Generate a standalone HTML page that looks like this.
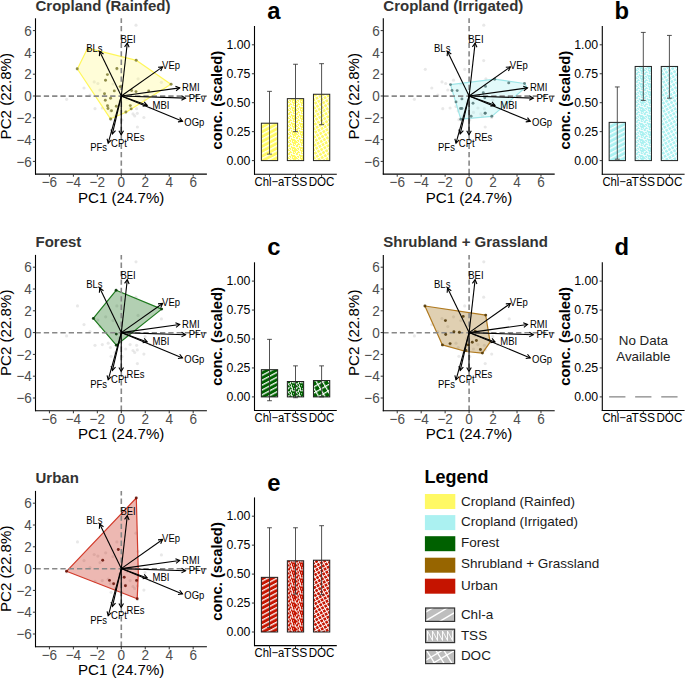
<!DOCTYPE html>
<html><head><meta charset="utf-8"><style>
html,body{margin:0;padding:0;background:#fff;overflow:hidden}
svg{display:block}
text{font-family:"Liberation Sans", sans-serif}
</style></head><body>
<svg width="685" height="679" viewBox="0 0 685 679" font-family='"Liberation Sans", sans-serif'>
<rect width="685" height="679" fill="#fff"/>
<defs>
<pattern id="stripe" patternUnits="userSpaceOnUse" width="4.3" height="4.3" patternTransform="rotate(62)">
<rect x="0" y="0" width="1.35" height="4.3" fill="#fff" fill-opacity="0.92"/></pattern>
<pattern id="dots" patternUnits="userSpaceOnUse" width="8" height="8"><path d="M0,0h1v1h-1zM4,0h1v1h-1zM6,0h1v1h-1zM2,1h1v1h-1zM3,1h1v1h-1zM4,1h1v1h-1zM7,1h1v1h-1zM2,2h1v1h-1zM4,2h1v1h-1zM5,2h1v1h-1zM6,2h1v1h-1zM7,2h1v1h-1zM0,3h1v1h-1zM1,3h1v1h-1zM2,3h1v1h-1zM7,3h1v1h-1zM0,4h1v1h-1zM3,4h1v1h-1zM1,5h1v1h-1zM3,5h1v1h-1zM5,5h1v1h-1zM2,6h1v1h-1zM3,6h1v1h-1zM0,7h1v1h-1zM1,7h1v1h-1zM3,7h1v1h-1zM4,7h1v1h-1z" fill="#fff" fill-opacity="0.85"/></pattern>
<pattern id="cross" patternUnits="userSpaceOnUse" width="3.6" height="3.6" patternTransform="rotate(-30)">
<rect x="0" y="0" width="3.6" height="0.95" fill="#fff"/><rect x="0" y="0" width="0.95" height="3.6" fill="#fff"/></pattern>
<pattern id="cross2" patternUnits="userSpaceOnUse" width="5.4" height="5.4" patternTransform="translate(1,0) rotate(-30)">
<rect x="0" y="0" width="5.4" height="1.2" fill="#fff"/><rect x="0" y="0" width="1.2" height="5.4" fill="#fff"/></pattern>
<pattern id="lstripe" patternUnits="userSpaceOnUse" width="7.2" height="7.2" patternTransform="rotate(60)">
<rect x="0" y="0" width="1.4" height="7.2" fill="#fff"/></pattern>
<pattern id="ldots" patternUnits="userSpaceOnUse" width="4" height="4">
<path d="M0,0 L1,4 L2,0 L3,4" stroke="#fff" stroke-width="0.6" fill="none"/></pattern>
<pattern id="lcross" patternUnits="userSpaceOnUse" width="7" height="7" patternTransform="rotate(55)">
<rect x="0" y="0" width="7" height="1.1" fill="#fff"/><rect x="0" y="0" width="1.1" height="7" fill="#fff"/></pattern>
</defs>
<g transform="translate(0,0)">
<text x="35.5" y="10.8" font-size="15" font-weight="bold" fill="#333">Cropland (Rainfed)</text>
<text transform="translate(10.7,96.2) rotate(-90)" text-anchor="middle" font-size="15.1" fill="#000">PC2 (22.8%)</text>
<text x="121.2" y="202.9" text-anchor="middle" font-size="15.1" fill="#000">PC1 (24.7%)</text>
<g fill="#000" fill-opacity="0.09">
<circle cx="77.5" cy="69.3" r="1.6"/>
<circle cx="66.6" cy="99.3" r="1.6"/>
<circle cx="95" cy="108.7" r="1.6"/>
<circle cx="102.3" cy="108" r="1.6"/>
<circle cx="108.2" cy="106.6" r="1.6"/>
<circle cx="110.4" cy="110.9" r="1.6"/>
<circle cx="125.7" cy="112.4" r="1.6"/>
<circle cx="133" cy="113.9" r="1.6"/>
<circle cx="136.6" cy="108.7" r="1.6"/>
<circle cx="143.9" cy="117.5" r="1.6"/>
<circle cx="137.4" cy="127" r="1.6"/>
<circle cx="111.1" cy="119.7" r="1.6"/>
<circle cx="130.1" cy="108" r="1.6"/>
<circle cx="135.9" cy="60.6" r="1.6"/>
<circle cx="138.1" cy="78.8" r="1.6"/>
<circle cx="116.9" cy="69.3" r="1.6"/>
<circle cx="134.7" cy="115.9" r="1.6"/>
<circle cx="137.3" cy="113.3" r="1.6"/>
<circle cx="97.9" cy="83.5" r="1.6"/>
<circle cx="161.4" cy="82.3" r="1.6"/>
<circle cx="94.2" cy="81.9" r="1.6"/>
<circle cx="105.7" cy="80.2" r="1.6"/>
<circle cx="136" cy="25.2" r="1.6"/>
<circle cx="100" cy="90" r="1.6"/>
<circle cx="113" cy="84" r="1.6"/>
<circle cx="119" cy="102" r="1.6"/>
<circle cx="127" cy="99" r="1.6"/>
<circle cx="90" cy="95" r="1.6"/>
<circle cx="84" cy="88" r="1.6"/>
<circle cx="122" cy="120" r="1.6"/>
<circle cx="115" cy="116" r="1.6"/>
<circle cx="145" cy="100" r="1.6"/>
<circle cx="150" cy="108" r="1.6"/>
</g>
<polygon points="77.4,69.0 87.6,48.2 136.6,60.4 170.9,84.3 126.0,112.2 110.5,118.8" fill="#FFF964" fill-opacity="0.25" stroke="#FFF75A" stroke-width="1.2" stroke-linejoin="round"/>
<line x1="35.5" y1="96.1" x2="206.9" y2="96.1" stroke="#888" stroke-width="1.6" stroke-dasharray="5.3 3.0"/>
<line x1="121.3" y1="174.1" x2="121.3" y2="18.3" stroke="#888" stroke-width="1.6" stroke-dasharray="5.3 3.1"/>
<g fill="#7f7c32" fill-opacity="0.85">
<circle cx="77.2" cy="68.8" r="1.45"/>
<circle cx="88.1" cy="49.4" r="1.45"/>
<circle cx="136.2" cy="60.3" r="1.45"/>
<circle cx="171.1" cy="84.2" r="1.45"/>
<circle cx="110.6" cy="119" r="1.45"/>
<circle cx="116.9" cy="68.5" r="1.45"/>
<circle cx="107.4" cy="74.6" r="1.45"/>
<circle cx="105.5" cy="80.2" r="1.45"/>
<circle cx="120.2" cy="86.6" r="1.45"/>
<circle cx="114.3" cy="90.9" r="1.45"/>
<circle cx="104.5" cy="93.8" r="1.45"/>
<circle cx="110.6" cy="98.2" r="1.45"/>
<circle cx="105.3" cy="100.3" r="1.45"/>
<circle cx="107.5" cy="105.8" r="1.45"/>
<circle cx="108" cy="108.5" r="1.45"/>
<circle cx="111.5" cy="110.7" r="1.45"/>
<circle cx="116.3" cy="106.3" r="1.45"/>
<circle cx="130.3" cy="105.6" r="1.45"/>
<circle cx="131.2" cy="108.9" r="1.45"/>
<circle cx="125.9" cy="112" r="1.45"/>
<circle cx="131.6" cy="90.5" r="1.45"/>
<circle cx="136" cy="91.6" r="1.45"/>
<circle cx="148.7" cy="90.9" r="1.45"/>
</g>
<g stroke="#000" stroke-width="1.1" fill="none" stroke-linecap="butt" stroke-linejoin="miter">
<line x1="121.30" y1="96.00" x2="127.30" y2="43.10"/><polyline points="124.57,46.80 127.30,43.10 129.14,47.32"/>
<line x1="121.30" y1="96.00" x2="99.70" y2="51.50"/><polyline points="99.37,56.09 99.70,51.50 103.51,54.08"/>
<line x1="121.30" y1="96.00" x2="162.60" y2="66.90"/><polyline points="158.02,67.31 162.60,66.90 160.67,71.07"/>
<line x1="121.30" y1="96.00" x2="179.70" y2="87.90"/><polyline points="175.44,86.17 179.70,87.90 176.07,90.73"/>
<line x1="121.30" y1="96.00" x2="185.50" y2="98.10"/><polyline points="181.59,95.67 185.50,98.10 181.44,100.27"/>
<line x1="121.30" y1="96.00" x2="147.20" y2="105.30"/><polyline points="144.23,101.79 147.20,105.30 142.67,106.12"/>
<line x1="121.30" y1="96.00" x2="182.50" y2="121.30"/><polyline points="179.70,117.65 182.50,121.30 177.94,121.90"/>
<line x1="121.30" y1="96.00" x2="112.40" y2="133.90"/><polyline points="115.55,130.55 112.40,133.90 111.07,129.50"/>
<line x1="121.30" y1="96.00" x2="108.20" y2="143.20"/><polyline points="111.48,139.98 108.20,143.20 107.05,138.75"/>
<line x1="121.30" y1="96.00" x2="121.20" y2="134.80"/><polyline points="123.51,130.82 121.20,134.80 118.91,130.81"/>
</g>
<g font-size="10.0" fill="#000">
<text transform="translate(120.42,42.7) scale(0.95,1)">BEI</text>
<text transform="translate(86.22,51.5) scale(0.95,1)">BLs</text>
<text transform="translate(162.05,69.1) scale(0.95,1)">VEp</text>
<text transform="translate(182.12,90.9) scale(0.95,1)">RMI</text>
<text transform="translate(188.72,101.6) scale(0.95,1)">PFv</text>
<text transform="translate(152.52,108.8) scale(0.95,1)">MBI</text>
<text transform="translate(184.25,126.2) scale(0.95,1)">OGp</text>
<text transform="translate(90.22,151.1) scale(0.95,1)">PFs</text>
<text transform="translate(111.02,146.7) scale(0.95,1)">CPt</text>
<text transform="translate(126.62,141.4) scale(0.95,1)">REs</text>
</g>
<line x1="35.5" y1="18.3" x2="35.5" y2="174.6" stroke="#000" stroke-width="1.1"/>
<line x1="35.0" y1="174.1" x2="206.9" y2="174.1" stroke="#000" stroke-width="1.1"/>
<g stroke="#333" stroke-width="1">
<line x1="32.9" y1="161.40" x2="35.5" y2="161.40"/>
<line x1="49.42" y1="174.1" x2="49.42" y2="176.7"/>
<line x1="32.9" y1="139.60" x2="35.5" y2="139.60"/>
<line x1="73.38" y1="174.1" x2="73.38" y2="176.7"/>
<line x1="32.9" y1="117.80" x2="35.5" y2="117.80"/>
<line x1="97.34" y1="174.1" x2="97.34" y2="176.7"/>
<line x1="32.9" y1="96.00" x2="35.5" y2="96.00"/>
<line x1="121.30" y1="174.1" x2="121.30" y2="176.7"/>
<line x1="32.9" y1="74.20" x2="35.5" y2="74.20"/>
<line x1="145.26" y1="174.1" x2="145.26" y2="176.7"/>
<line x1="32.9" y1="52.40" x2="35.5" y2="52.40"/>
<line x1="169.22" y1="174.1" x2="169.22" y2="176.7"/>
<line x1="32.9" y1="30.60" x2="35.5" y2="30.60"/>
<line x1="193.18" y1="174.1" x2="193.18" y2="176.7"/>
</g>
<g font-size="14.6" fill="#4d4d4d">
<text transform="translate(31.9,166.60) scale(0.93,1)" text-anchor="end">−6</text>
<text transform="translate(49.42,187.0) scale(0.93,1)" text-anchor="middle">−6</text>
<text transform="translate(31.9,144.80) scale(0.93,1)" text-anchor="end">−4</text>
<text transform="translate(73.38,187.0) scale(0.93,1)" text-anchor="middle">−4</text>
<text transform="translate(31.9,123.00) scale(0.93,1)" text-anchor="end">−2</text>
<text transform="translate(97.34,187.0) scale(0.93,1)" text-anchor="middle">−2</text>
<text transform="translate(31.9,101.20) scale(0.93,1)" text-anchor="end">0</text>
<text transform="translate(121.30,187.0) scale(0.93,1)" text-anchor="middle">0</text>
<text transform="translate(31.9,79.40) scale(0.93,1)" text-anchor="end">2</text>
<text transform="translate(145.26,187.0) scale(0.93,1)" text-anchor="middle">2</text>
<text transform="translate(31.9,57.60) scale(0.93,1)" text-anchor="end">4</text>
<text transform="translate(169.22,187.0) scale(0.93,1)" text-anchor="middle">4</text>
<text transform="translate(31.9,35.80) scale(0.93,1)" text-anchor="end">6</text>
<text transform="translate(193.18,187.0) scale(0.93,1)" text-anchor="middle">6</text>
</g>
</g>
<g transform="translate(347.8,0)">
<text x="35.5" y="10.8" font-size="15" font-weight="bold" fill="#333">Cropland (Irrigated)</text>
<text transform="translate(10.7,96.2) rotate(-90)" text-anchor="middle" font-size="15.1" fill="#000">PC2 (22.8%)</text>
<text x="121.2" y="202.9" text-anchor="middle" font-size="15.1" fill="#000">PC1 (24.7%)</text>
<g fill="#000" fill-opacity="0.09">
<circle cx="77.5" cy="69.3" r="1.6"/>
<circle cx="66.6" cy="99.3" r="1.6"/>
<circle cx="95" cy="108.7" r="1.6"/>
<circle cx="102.3" cy="108" r="1.6"/>
<circle cx="108.2" cy="106.6" r="1.6"/>
<circle cx="110.4" cy="110.9" r="1.6"/>
<circle cx="125.7" cy="112.4" r="1.6"/>
<circle cx="133" cy="113.9" r="1.6"/>
<circle cx="136.6" cy="108.7" r="1.6"/>
<circle cx="143.9" cy="117.5" r="1.6"/>
<circle cx="137.4" cy="127" r="1.6"/>
<circle cx="111.1" cy="119.7" r="1.6"/>
<circle cx="130.1" cy="108" r="1.6"/>
<circle cx="135.9" cy="60.6" r="1.6"/>
<circle cx="138.1" cy="78.8" r="1.6"/>
<circle cx="116.9" cy="69.3" r="1.6"/>
<circle cx="134.7" cy="115.9" r="1.6"/>
<circle cx="137.3" cy="113.3" r="1.6"/>
<circle cx="97.9" cy="83.5" r="1.6"/>
<circle cx="161.4" cy="82.3" r="1.6"/>
<circle cx="94.2" cy="81.9" r="1.6"/>
<circle cx="105.7" cy="80.2" r="1.6"/>
<circle cx="136" cy="25.2" r="1.6"/>
<circle cx="100" cy="90" r="1.6"/>
<circle cx="113" cy="84" r="1.6"/>
<circle cx="119" cy="102" r="1.6"/>
<circle cx="127" cy="99" r="1.6"/>
<circle cx="90" cy="95" r="1.6"/>
<circle cx="84" cy="88" r="1.6"/>
<circle cx="122" cy="120" r="1.6"/>
<circle cx="115" cy="116" r="1.6"/>
<circle cx="145" cy="100" r="1.6"/>
<circle cx="150" cy="108" r="1.6"/>
</g>
<polygon points="102.7,84.6 146.9,79.2 176.7,83.5 178.7,86.5 144.0,116.4 113.0,119.2" fill="#ABF1F1" fill-opacity="0.35" stroke="#9EE6E8" stroke-width="1.2" stroke-linejoin="round"/>
<line x1="35.5" y1="96.1" x2="206.9" y2="96.1" stroke="#888" stroke-width="1.6" stroke-dasharray="5.3 3.0"/>
<line x1="121.3" y1="174.1" x2="121.3" y2="18.3" stroke="#888" stroke-width="1.6" stroke-dasharray="5.3 3.1"/>
<g fill="#557878" fill-opacity="0.85">
<circle cx="102.69999999999999" cy="84.6" r="1.45"/>
<circle cx="104.19999999999999" cy="90.5" r="1.45"/>
<circle cx="109.39999999999998" cy="90.6" r="1.45"/>
<circle cx="114.09999999999997" cy="98.9" r="1.45"/>
<circle cx="108.19999999999999" cy="101.9" r="1.45"/>
<circle cx="112.69999999999999" cy="108.5" r="1.45"/>
<circle cx="114.09999999999997" cy="108.5" r="1.45"/>
<circle cx="113.0" cy="119.2" r="1.45"/>
<circle cx="125.19999999999999" cy="103.3" r="1.45"/>
<circle cx="123.30000000000001" cy="116.2" r="1.45"/>
<circle cx="137.3" cy="113.3" r="1.45"/>
<circle cx="144.0" cy="116.2" r="1.45"/>
<circle cx="137.7" cy="86.4" r="1.45"/>
<circle cx="135.5" cy="92.7" r="1.45"/>
<circle cx="137.0" cy="97.8" r="1.45"/>
<circle cx="160.89999999999998" cy="82.9" r="1.45"/>
<circle cx="146.89999999999998" cy="79.2" r="1.45"/>
<circle cx="176.7" cy="83.5" r="1.45"/>
<circle cx="137.39999999999998" cy="113.1" r="1.45"/>
</g>
<g stroke="#000" stroke-width="1.1" fill="none" stroke-linecap="butt" stroke-linejoin="miter">
<line x1="121.30" y1="96.00" x2="127.30" y2="43.10"/><polyline points="124.57,46.80 127.30,43.10 129.14,47.32"/>
<line x1="121.30" y1="96.00" x2="99.70" y2="51.50"/><polyline points="99.37,56.09 99.70,51.50 103.51,54.08"/>
<line x1="121.30" y1="96.00" x2="162.60" y2="66.90"/><polyline points="158.02,67.31 162.60,66.90 160.67,71.07"/>
<line x1="121.30" y1="96.00" x2="179.70" y2="87.90"/><polyline points="175.44,86.17 179.70,87.90 176.07,90.73"/>
<line x1="121.30" y1="96.00" x2="185.50" y2="98.10"/><polyline points="181.59,95.67 185.50,98.10 181.44,100.27"/>
<line x1="121.30" y1="96.00" x2="147.20" y2="105.30"/><polyline points="144.23,101.79 147.20,105.30 142.67,106.12"/>
<line x1="121.30" y1="96.00" x2="182.50" y2="121.30"/><polyline points="179.70,117.65 182.50,121.30 177.94,121.90"/>
<line x1="121.30" y1="96.00" x2="112.40" y2="133.90"/><polyline points="115.55,130.55 112.40,133.90 111.07,129.50"/>
<line x1="121.30" y1="96.00" x2="108.20" y2="143.20"/><polyline points="111.48,139.98 108.20,143.20 107.05,138.75"/>
<line x1="121.30" y1="96.00" x2="121.20" y2="134.80"/><polyline points="123.51,130.82 121.20,134.80 118.91,130.81"/>
</g>
<g font-size="10.0" fill="#000">
<text transform="translate(120.42,42.7) scale(0.95,1)">BEI</text>
<text transform="translate(86.22,51.5) scale(0.95,1)">BLs</text>
<text transform="translate(162.05,69.1) scale(0.95,1)">VEp</text>
<text transform="translate(182.12,90.9) scale(0.95,1)">RMI</text>
<text transform="translate(188.72,101.6) scale(0.95,1)">PFv</text>
<text transform="translate(152.52,108.8) scale(0.95,1)">MBI</text>
<text transform="translate(184.25,126.2) scale(0.95,1)">OGp</text>
<text transform="translate(90.22,151.1) scale(0.95,1)">PFs</text>
<text transform="translate(111.02,146.7) scale(0.95,1)">CPt</text>
<text transform="translate(126.62,141.4) scale(0.95,1)">REs</text>
</g>
<line x1="35.5" y1="18.3" x2="35.5" y2="174.6" stroke="#000" stroke-width="1.1"/>
<line x1="35.0" y1="174.1" x2="206.9" y2="174.1" stroke="#000" stroke-width="1.1"/>
<g stroke="#333" stroke-width="1">
<line x1="32.9" y1="161.40" x2="35.5" y2="161.40"/>
<line x1="49.42" y1="174.1" x2="49.42" y2="176.7"/>
<line x1="32.9" y1="139.60" x2="35.5" y2="139.60"/>
<line x1="73.38" y1="174.1" x2="73.38" y2="176.7"/>
<line x1="32.9" y1="117.80" x2="35.5" y2="117.80"/>
<line x1="97.34" y1="174.1" x2="97.34" y2="176.7"/>
<line x1="32.9" y1="96.00" x2="35.5" y2="96.00"/>
<line x1="121.30" y1="174.1" x2="121.30" y2="176.7"/>
<line x1="32.9" y1="74.20" x2="35.5" y2="74.20"/>
<line x1="145.26" y1="174.1" x2="145.26" y2="176.7"/>
<line x1="32.9" y1="52.40" x2="35.5" y2="52.40"/>
<line x1="169.22" y1="174.1" x2="169.22" y2="176.7"/>
<line x1="32.9" y1="30.60" x2="35.5" y2="30.60"/>
<line x1="193.18" y1="174.1" x2="193.18" y2="176.7"/>
</g>
<g font-size="14.6" fill="#4d4d4d">
<text transform="translate(31.9,166.60) scale(0.93,1)" text-anchor="end">−6</text>
<text transform="translate(49.42,187.0) scale(0.93,1)" text-anchor="middle">−6</text>
<text transform="translate(31.9,144.80) scale(0.93,1)" text-anchor="end">−4</text>
<text transform="translate(73.38,187.0) scale(0.93,1)" text-anchor="middle">−4</text>
<text transform="translate(31.9,123.00) scale(0.93,1)" text-anchor="end">−2</text>
<text transform="translate(97.34,187.0) scale(0.93,1)" text-anchor="middle">−2</text>
<text transform="translate(31.9,101.20) scale(0.93,1)" text-anchor="end">0</text>
<text transform="translate(121.30,187.0) scale(0.93,1)" text-anchor="middle">0</text>
<text transform="translate(31.9,79.40) scale(0.93,1)" text-anchor="end">2</text>
<text transform="translate(145.26,187.0) scale(0.93,1)" text-anchor="middle">2</text>
<text transform="translate(31.9,57.60) scale(0.93,1)" text-anchor="end">4</text>
<text transform="translate(169.22,187.0) scale(0.93,1)" text-anchor="middle">4</text>
<text transform="translate(31.9,35.80) scale(0.93,1)" text-anchor="end">6</text>
<text transform="translate(193.18,187.0) scale(0.93,1)" text-anchor="middle">6</text>
</g>
</g>
<g transform="translate(0,236.6)">
<text x="35.5" y="10.8" font-size="15" font-weight="bold" fill="#333">Forest</text>
<text transform="translate(10.7,96.2) rotate(-90)" text-anchor="middle" font-size="15.1" fill="#000">PC2 (22.8%)</text>
<text x="121.2" y="202.9" text-anchor="middle" font-size="15.1" fill="#000">PC1 (24.7%)</text>
<g fill="#000" fill-opacity="0.09">
<circle cx="77.5" cy="69.3" r="1.6"/>
<circle cx="66.6" cy="99.3" r="1.6"/>
<circle cx="95" cy="108.7" r="1.6"/>
<circle cx="102.3" cy="108" r="1.6"/>
<circle cx="108.2" cy="106.6" r="1.6"/>
<circle cx="110.4" cy="110.9" r="1.6"/>
<circle cx="125.7" cy="112.4" r="1.6"/>
<circle cx="133" cy="113.9" r="1.6"/>
<circle cx="136.6" cy="108.7" r="1.6"/>
<circle cx="143.9" cy="117.5" r="1.6"/>
<circle cx="137.4" cy="127" r="1.6"/>
<circle cx="111.1" cy="119.7" r="1.6"/>
<circle cx="130.1" cy="108" r="1.6"/>
<circle cx="135.9" cy="60.6" r="1.6"/>
<circle cx="138.1" cy="78.8" r="1.6"/>
<circle cx="116.9" cy="69.3" r="1.6"/>
<circle cx="134.7" cy="115.9" r="1.6"/>
<circle cx="137.3" cy="113.3" r="1.6"/>
<circle cx="97.9" cy="83.5" r="1.6"/>
<circle cx="161.4" cy="82.3" r="1.6"/>
<circle cx="94.2" cy="81.9" r="1.6"/>
<circle cx="105.7" cy="80.2" r="1.6"/>
<circle cx="136" cy="25.2" r="1.6"/>
<circle cx="100" cy="90" r="1.6"/>
<circle cx="113" cy="84" r="1.6"/>
<circle cx="119" cy="102" r="1.6"/>
<circle cx="127" cy="99" r="1.6"/>
<circle cx="90" cy="95" r="1.6"/>
<circle cx="84" cy="88" r="1.6"/>
<circle cx="122" cy="120" r="1.6"/>
<circle cx="115" cy="116" r="1.6"/>
<circle cx="145" cy="100" r="1.6"/>
<circle cx="150" cy="108" r="1.6"/>
</g>
<polygon points="116.1,53.7 161.7,72.5 116.3,108.6 93.3,81.8" fill="#006100" fill-opacity="0.3" stroke="#1F7A1F" stroke-width="1.2" stroke-linejoin="round"/>
<line x1="35.5" y1="96.1" x2="206.9" y2="96.1" stroke="#888" stroke-width="1.6" stroke-dasharray="5.3 3.0"/>
<line x1="121.3" y1="174.1" x2="121.3" y2="18.3" stroke="#888" stroke-width="1.6" stroke-dasharray="5.3 3.1"/>
<g fill="#003000" fill-opacity="0.85">
<circle cx="116.1" cy="53.7" r="1.45"/>
<circle cx="161.7" cy="72.5" r="1.45"/>
<circle cx="116.3" cy="108.60000000000001" r="1.45"/>
<circle cx="93.3" cy="81.80000000000001" r="1.45"/>
<circle cx="116.3" cy="97.5" r="1.45"/>
</g>
<g stroke="#000" stroke-width="1.1" fill="none" stroke-linecap="butt" stroke-linejoin="miter">
<line x1="121.30" y1="96.00" x2="127.30" y2="43.10"/><polyline points="124.57,46.80 127.30,43.10 129.14,47.32"/>
<line x1="121.30" y1="96.00" x2="99.70" y2="51.50"/><polyline points="99.37,56.09 99.70,51.50 103.51,54.08"/>
<line x1="121.30" y1="96.00" x2="162.60" y2="66.90"/><polyline points="158.02,67.31 162.60,66.90 160.67,71.07"/>
<line x1="121.30" y1="96.00" x2="179.70" y2="87.90"/><polyline points="175.44,86.17 179.70,87.90 176.07,90.73"/>
<line x1="121.30" y1="96.00" x2="185.50" y2="98.10"/><polyline points="181.59,95.67 185.50,98.10 181.44,100.27"/>
<line x1="121.30" y1="96.00" x2="147.20" y2="105.30"/><polyline points="144.23,101.79 147.20,105.30 142.67,106.12"/>
<line x1="121.30" y1="96.00" x2="182.50" y2="121.30"/><polyline points="179.70,117.65 182.50,121.30 177.94,121.90"/>
<line x1="121.30" y1="96.00" x2="112.40" y2="133.90"/><polyline points="115.55,130.55 112.40,133.90 111.07,129.50"/>
<line x1="121.30" y1="96.00" x2="108.20" y2="143.20"/><polyline points="111.48,139.98 108.20,143.20 107.05,138.75"/>
<line x1="121.30" y1="96.00" x2="121.20" y2="134.80"/><polyline points="123.51,130.82 121.20,134.80 118.91,130.81"/>
</g>
<g font-size="10.0" fill="#000">
<text transform="translate(120.42,42.7) scale(0.95,1)">BEI</text>
<text transform="translate(86.22,51.5) scale(0.95,1)">BLs</text>
<text transform="translate(162.05,69.1) scale(0.95,1)">VEp</text>
<text transform="translate(182.12,90.9) scale(0.95,1)">RMI</text>
<text transform="translate(188.72,101.6) scale(0.95,1)">PFv</text>
<text transform="translate(152.52,108.8) scale(0.95,1)">MBI</text>
<text transform="translate(184.25,126.2) scale(0.95,1)">OGp</text>
<text transform="translate(90.22,151.1) scale(0.95,1)">PFs</text>
<text transform="translate(111.02,146.7) scale(0.95,1)">CPt</text>
<text transform="translate(126.62,141.4) scale(0.95,1)">REs</text>
</g>
<line x1="35.5" y1="18.3" x2="35.5" y2="174.6" stroke="#000" stroke-width="1.1"/>
<line x1="35.0" y1="174.1" x2="206.9" y2="174.1" stroke="#000" stroke-width="1.1"/>
<g stroke="#333" stroke-width="1">
<line x1="32.9" y1="161.40" x2="35.5" y2="161.40"/>
<line x1="49.42" y1="174.1" x2="49.42" y2="176.7"/>
<line x1="32.9" y1="139.60" x2="35.5" y2="139.60"/>
<line x1="73.38" y1="174.1" x2="73.38" y2="176.7"/>
<line x1="32.9" y1="117.80" x2="35.5" y2="117.80"/>
<line x1="97.34" y1="174.1" x2="97.34" y2="176.7"/>
<line x1="32.9" y1="96.00" x2="35.5" y2="96.00"/>
<line x1="121.30" y1="174.1" x2="121.30" y2="176.7"/>
<line x1="32.9" y1="74.20" x2="35.5" y2="74.20"/>
<line x1="145.26" y1="174.1" x2="145.26" y2="176.7"/>
<line x1="32.9" y1="52.40" x2="35.5" y2="52.40"/>
<line x1="169.22" y1="174.1" x2="169.22" y2="176.7"/>
<line x1="32.9" y1="30.60" x2="35.5" y2="30.60"/>
<line x1="193.18" y1="174.1" x2="193.18" y2="176.7"/>
</g>
<g font-size="14.6" fill="#4d4d4d">
<text transform="translate(31.9,166.60) scale(0.93,1)" text-anchor="end">−6</text>
<text transform="translate(49.42,187.0) scale(0.93,1)" text-anchor="middle">−6</text>
<text transform="translate(31.9,144.80) scale(0.93,1)" text-anchor="end">−4</text>
<text transform="translate(73.38,187.0) scale(0.93,1)" text-anchor="middle">−4</text>
<text transform="translate(31.9,123.00) scale(0.93,1)" text-anchor="end">−2</text>
<text transform="translate(97.34,187.0) scale(0.93,1)" text-anchor="middle">−2</text>
<text transform="translate(31.9,101.20) scale(0.93,1)" text-anchor="end">0</text>
<text transform="translate(121.30,187.0) scale(0.93,1)" text-anchor="middle">0</text>
<text transform="translate(31.9,79.40) scale(0.93,1)" text-anchor="end">2</text>
<text transform="translate(145.26,187.0) scale(0.93,1)" text-anchor="middle">2</text>
<text transform="translate(31.9,57.60) scale(0.93,1)" text-anchor="end">4</text>
<text transform="translate(169.22,187.0) scale(0.93,1)" text-anchor="middle">4</text>
<text transform="translate(31.9,35.80) scale(0.93,1)" text-anchor="end">6</text>
<text transform="translate(193.18,187.0) scale(0.93,1)" text-anchor="middle">6</text>
</g>
</g>
<g transform="translate(347.8,236.6)">
<text x="35.5" y="10.8" font-size="15" font-weight="bold" fill="#333">Shrubland + Grassland</text>
<text transform="translate(10.7,96.2) rotate(-90)" text-anchor="middle" font-size="15.1" fill="#000">PC2 (22.8%)</text>
<text x="121.2" y="202.9" text-anchor="middle" font-size="15.1" fill="#000">PC1 (24.7%)</text>
<g fill="#000" fill-opacity="0.09">
<circle cx="77.5" cy="69.3" r="1.6"/>
<circle cx="66.6" cy="99.3" r="1.6"/>
<circle cx="95" cy="108.7" r="1.6"/>
<circle cx="102.3" cy="108" r="1.6"/>
<circle cx="108.2" cy="106.6" r="1.6"/>
<circle cx="110.4" cy="110.9" r="1.6"/>
<circle cx="125.7" cy="112.4" r="1.6"/>
<circle cx="133" cy="113.9" r="1.6"/>
<circle cx="136.6" cy="108.7" r="1.6"/>
<circle cx="143.9" cy="117.5" r="1.6"/>
<circle cx="137.4" cy="127" r="1.6"/>
<circle cx="111.1" cy="119.7" r="1.6"/>
<circle cx="130.1" cy="108" r="1.6"/>
<circle cx="135.9" cy="60.6" r="1.6"/>
<circle cx="138.1" cy="78.8" r="1.6"/>
<circle cx="116.9" cy="69.3" r="1.6"/>
<circle cx="134.7" cy="115.9" r="1.6"/>
<circle cx="137.3" cy="113.3" r="1.6"/>
<circle cx="97.9" cy="83.5" r="1.6"/>
<circle cx="161.4" cy="82.3" r="1.6"/>
<circle cx="94.2" cy="81.9" r="1.6"/>
<circle cx="105.7" cy="80.2" r="1.6"/>
<circle cx="136" cy="25.2" r="1.6"/>
<circle cx="100" cy="90" r="1.6"/>
<circle cx="113" cy="84" r="1.6"/>
<circle cx="119" cy="102" r="1.6"/>
<circle cx="127" cy="99" r="1.6"/>
<circle cx="90" cy="95" r="1.6"/>
<circle cx="84" cy="88" r="1.6"/>
<circle cx="122" cy="120" r="1.6"/>
<circle cx="115" cy="116" r="1.6"/>
<circle cx="145" cy="100" r="1.6"/>
<circle cx="150" cy="108" r="1.6"/>
</g>
<polygon points="77.1,69.4 137.9,78.5 142.3,105.6 134.6,116.5 118.2,114.9 94.6,108.3" fill="#976500" fill-opacity="0.3" stroke="#B07A20" stroke-width="1.2" stroke-linejoin="round"/>
<line x1="35.5" y1="96.1" x2="206.9" y2="96.1" stroke="#888" stroke-width="1.6" stroke-dasharray="5.3 3.0"/>
<line x1="121.3" y1="174.1" x2="121.3" y2="18.3" stroke="#888" stroke-width="1.6" stroke-dasharray="5.3 3.1"/>
<g fill="#4b3200" fill-opacity="0.85">
<circle cx="77.1" cy="69.4" r="1.45"/>
<circle cx="137.9" cy="78.5" r="1.45"/>
<circle cx="134.6" cy="116.5" r="1.45"/>
<circle cx="94.6" cy="108.30000000000001" r="1.45"/>
<circle cx="115.4" cy="79.80000000000001" r="1.45"/>
<circle cx="97.6" cy="84.0" r="1.45"/>
<circle cx="97.9" cy="97.9" r="1.45"/>
<circle cx="106.1" cy="95.2" r="1.45"/>
<circle cx="111.6" cy="95.7" r="1.45"/>
<circle cx="102.3" cy="107.0" r="1.45"/>
<circle cx="124.5" cy="105.60000000000001" r="1.45"/>
<circle cx="128.6" cy="103.9" r="1.45"/>
<circle cx="120.4" cy="108.30000000000001" r="1.45"/>
<circle cx="118.2" cy="113.80000000000001" r="1.45"/>
<circle cx="132.6" cy="112.9" r="1.45"/>
<circle cx="127.5" cy="94.60000000000001" r="1.45"/>
</g>
<g stroke="#000" stroke-width="1.1" fill="none" stroke-linecap="butt" stroke-linejoin="miter">
<line x1="121.30" y1="96.00" x2="127.30" y2="43.10"/><polyline points="124.57,46.80 127.30,43.10 129.14,47.32"/>
<line x1="121.30" y1="96.00" x2="99.70" y2="51.50"/><polyline points="99.37,56.09 99.70,51.50 103.51,54.08"/>
<line x1="121.30" y1="96.00" x2="162.60" y2="66.90"/><polyline points="158.02,67.31 162.60,66.90 160.67,71.07"/>
<line x1="121.30" y1="96.00" x2="179.70" y2="87.90"/><polyline points="175.44,86.17 179.70,87.90 176.07,90.73"/>
<line x1="121.30" y1="96.00" x2="185.50" y2="98.10"/><polyline points="181.59,95.67 185.50,98.10 181.44,100.27"/>
<line x1="121.30" y1="96.00" x2="147.20" y2="105.30"/><polyline points="144.23,101.79 147.20,105.30 142.67,106.12"/>
<line x1="121.30" y1="96.00" x2="182.50" y2="121.30"/><polyline points="179.70,117.65 182.50,121.30 177.94,121.90"/>
<line x1="121.30" y1="96.00" x2="112.40" y2="133.90"/><polyline points="115.55,130.55 112.40,133.90 111.07,129.50"/>
<line x1="121.30" y1="96.00" x2="108.20" y2="143.20"/><polyline points="111.48,139.98 108.20,143.20 107.05,138.75"/>
<line x1="121.30" y1="96.00" x2="121.20" y2="134.80"/><polyline points="123.51,130.82 121.20,134.80 118.91,130.81"/>
</g>
<g font-size="10.0" fill="#000">
<text transform="translate(120.42,42.7) scale(0.95,1)">BEI</text>
<text transform="translate(86.22,51.5) scale(0.95,1)">BLs</text>
<text transform="translate(162.05,69.1) scale(0.95,1)">VEp</text>
<text transform="translate(182.12,90.9) scale(0.95,1)">RMI</text>
<text transform="translate(188.72,101.6) scale(0.95,1)">PFv</text>
<text transform="translate(152.52,108.8) scale(0.95,1)">MBI</text>
<text transform="translate(184.25,126.2) scale(0.95,1)">OGp</text>
<text transform="translate(90.22,151.1) scale(0.95,1)">PFs</text>
<text transform="translate(111.02,146.7) scale(0.95,1)">CPt</text>
<text transform="translate(126.62,141.4) scale(0.95,1)">REs</text>
</g>
<line x1="35.5" y1="18.3" x2="35.5" y2="174.6" stroke="#000" stroke-width="1.1"/>
<line x1="35.0" y1="174.1" x2="206.9" y2="174.1" stroke="#000" stroke-width="1.1"/>
<g stroke="#333" stroke-width="1">
<line x1="32.9" y1="161.40" x2="35.5" y2="161.40"/>
<line x1="49.42" y1="174.1" x2="49.42" y2="176.7"/>
<line x1="32.9" y1="139.60" x2="35.5" y2="139.60"/>
<line x1="73.38" y1="174.1" x2="73.38" y2="176.7"/>
<line x1="32.9" y1="117.80" x2="35.5" y2="117.80"/>
<line x1="97.34" y1="174.1" x2="97.34" y2="176.7"/>
<line x1="32.9" y1="96.00" x2="35.5" y2="96.00"/>
<line x1="121.30" y1="174.1" x2="121.30" y2="176.7"/>
<line x1="32.9" y1="74.20" x2="35.5" y2="74.20"/>
<line x1="145.26" y1="174.1" x2="145.26" y2="176.7"/>
<line x1="32.9" y1="52.40" x2="35.5" y2="52.40"/>
<line x1="169.22" y1="174.1" x2="169.22" y2="176.7"/>
<line x1="32.9" y1="30.60" x2="35.5" y2="30.60"/>
<line x1="193.18" y1="174.1" x2="193.18" y2="176.7"/>
</g>
<g font-size="14.6" fill="#4d4d4d">
<text transform="translate(31.9,166.60) scale(0.93,1)" text-anchor="end">−6</text>
<text transform="translate(49.42,187.0) scale(0.93,1)" text-anchor="middle">−6</text>
<text transform="translate(31.9,144.80) scale(0.93,1)" text-anchor="end">−4</text>
<text transform="translate(73.38,187.0) scale(0.93,1)" text-anchor="middle">−4</text>
<text transform="translate(31.9,123.00) scale(0.93,1)" text-anchor="end">−2</text>
<text transform="translate(97.34,187.0) scale(0.93,1)" text-anchor="middle">−2</text>
<text transform="translate(31.9,101.20) scale(0.93,1)" text-anchor="end">0</text>
<text transform="translate(121.30,187.0) scale(0.93,1)" text-anchor="middle">0</text>
<text transform="translate(31.9,79.40) scale(0.93,1)" text-anchor="end">2</text>
<text transform="translate(145.26,187.0) scale(0.93,1)" text-anchor="middle">2</text>
<text transform="translate(31.9,57.60) scale(0.93,1)" text-anchor="end">4</text>
<text transform="translate(169.22,187.0) scale(0.93,1)" text-anchor="middle">4</text>
<text transform="translate(31.9,35.80) scale(0.93,1)" text-anchor="end">6</text>
<text transform="translate(193.18,187.0) scale(0.93,1)" text-anchor="middle">6</text>
</g>
</g>
<g transform="translate(0,472.6)">
<text x="35.5" y="10.8" font-size="15" font-weight="bold" fill="#333">Urban</text>
<text transform="translate(10.7,96.2) rotate(-90)" text-anchor="middle" font-size="15.1" fill="#000">PC2 (22.8%)</text>
<text x="121.2" y="202.9" text-anchor="middle" font-size="15.1" fill="#000">PC1 (24.7%)</text>
<g fill="#000" fill-opacity="0.09">
<circle cx="77.5" cy="69.3" r="1.6"/>
<circle cx="66.6" cy="99.3" r="1.6"/>
<circle cx="95" cy="108.7" r="1.6"/>
<circle cx="102.3" cy="108" r="1.6"/>
<circle cx="108.2" cy="106.6" r="1.6"/>
<circle cx="110.4" cy="110.9" r="1.6"/>
<circle cx="125.7" cy="112.4" r="1.6"/>
<circle cx="133" cy="113.9" r="1.6"/>
<circle cx="136.6" cy="108.7" r="1.6"/>
<circle cx="143.9" cy="117.5" r="1.6"/>
<circle cx="137.4" cy="127" r="1.6"/>
<circle cx="111.1" cy="119.7" r="1.6"/>
<circle cx="130.1" cy="108" r="1.6"/>
<circle cx="135.9" cy="60.6" r="1.6"/>
<circle cx="138.1" cy="78.8" r="1.6"/>
<circle cx="116.9" cy="69.3" r="1.6"/>
<circle cx="134.7" cy="115.9" r="1.6"/>
<circle cx="137.3" cy="113.3" r="1.6"/>
<circle cx="97.9" cy="83.5" r="1.6"/>
<circle cx="161.4" cy="82.3" r="1.6"/>
<circle cx="94.2" cy="81.9" r="1.6"/>
<circle cx="105.7" cy="80.2" r="1.6"/>
<circle cx="136" cy="25.2" r="1.6"/>
<circle cx="100" cy="90" r="1.6"/>
<circle cx="113" cy="84" r="1.6"/>
<circle cx="119" cy="102" r="1.6"/>
<circle cx="127" cy="99" r="1.6"/>
<circle cx="90" cy="95" r="1.6"/>
<circle cx="84" cy="88" r="1.6"/>
<circle cx="122" cy="120" r="1.6"/>
<circle cx="115" cy="116" r="1.6"/>
<circle cx="145" cy="100" r="1.6"/>
<circle cx="150" cy="108" r="1.6"/>
</g>
<polygon points="136.3,25.4 138.3,100.4 137.2,126.1 66.5,98.7" fill="#C51400" fill-opacity="0.3" stroke="#D23A2A" stroke-width="1.2" stroke-linejoin="round"/>
<line x1="35.5" y1="96.1" x2="206.9" y2="96.1" stroke="#888" stroke-width="1.6" stroke-dasharray="5.3 3.0"/>
<line x1="121.3" y1="174.1" x2="121.3" y2="18.3" stroke="#888" stroke-width="1.6" stroke-dasharray="5.3 3.1"/>
<g fill="#620a00" fill-opacity="0.85">
<circle cx="136.3" cy="25.399999999999977" r="1.45"/>
<circle cx="66.5" cy="98.69999999999997" r="1.45"/>
<circle cx="137.2" cy="126.09999999999998" r="1.45"/>
<circle cx="118.3" cy="76.89999999999998" r="1.45"/>
<circle cx="102.7" cy="87.69999999999997" r="1.45"/>
<circle cx="109.5" cy="107.79999999999998" r="1.45"/>
<circle cx="113.6" cy="111.09999999999998" r="1.45"/>
<circle cx="125.4" cy="113.19999999999997" r="1.45"/>
<circle cx="136.6" cy="107.79999999999998" r="1.45"/>
<circle cx="124.2" cy="104.59999999999998" r="1.45"/>
</g>
<g stroke="#000" stroke-width="1.1" fill="none" stroke-linecap="butt" stroke-linejoin="miter">
<line x1="121.30" y1="96.00" x2="127.30" y2="43.10"/><polyline points="124.57,46.80 127.30,43.10 129.14,47.32"/>
<line x1="121.30" y1="96.00" x2="99.70" y2="51.50"/><polyline points="99.37,56.09 99.70,51.50 103.51,54.08"/>
<line x1="121.30" y1="96.00" x2="162.60" y2="66.90"/><polyline points="158.02,67.31 162.60,66.90 160.67,71.07"/>
<line x1="121.30" y1="96.00" x2="179.70" y2="87.90"/><polyline points="175.44,86.17 179.70,87.90 176.07,90.73"/>
<line x1="121.30" y1="96.00" x2="185.50" y2="98.10"/><polyline points="181.59,95.67 185.50,98.10 181.44,100.27"/>
<line x1="121.30" y1="96.00" x2="147.20" y2="105.30"/><polyline points="144.23,101.79 147.20,105.30 142.67,106.12"/>
<line x1="121.30" y1="96.00" x2="182.50" y2="121.30"/><polyline points="179.70,117.65 182.50,121.30 177.94,121.90"/>
<line x1="121.30" y1="96.00" x2="112.40" y2="133.90"/><polyline points="115.55,130.55 112.40,133.90 111.07,129.50"/>
<line x1="121.30" y1="96.00" x2="108.20" y2="143.20"/><polyline points="111.48,139.98 108.20,143.20 107.05,138.75"/>
<line x1="121.30" y1="96.00" x2="121.20" y2="134.80"/><polyline points="123.51,130.82 121.20,134.80 118.91,130.81"/>
</g>
<g font-size="10.0" fill="#000">
<text transform="translate(120.42,42.7) scale(0.95,1)">BEI</text>
<text transform="translate(86.22,51.5) scale(0.95,1)">BLs</text>
<text transform="translate(162.05,69.1) scale(0.95,1)">VEp</text>
<text transform="translate(182.12,90.9) scale(0.95,1)">RMI</text>
<text transform="translate(188.72,101.6) scale(0.95,1)">PFv</text>
<text transform="translate(152.52,108.8) scale(0.95,1)">MBI</text>
<text transform="translate(184.25,126.2) scale(0.95,1)">OGp</text>
<text transform="translate(90.22,151.1) scale(0.95,1)">PFs</text>
<text transform="translate(111.02,146.7) scale(0.95,1)">CPt</text>
<text transform="translate(126.62,141.4) scale(0.95,1)">REs</text>
</g>
<line x1="35.5" y1="18.3" x2="35.5" y2="174.6" stroke="#000" stroke-width="1.1"/>
<line x1="35.0" y1="174.1" x2="206.9" y2="174.1" stroke="#000" stroke-width="1.1"/>
<g stroke="#333" stroke-width="1">
<line x1="32.9" y1="161.40" x2="35.5" y2="161.40"/>
<line x1="49.42" y1="174.1" x2="49.42" y2="176.7"/>
<line x1="32.9" y1="139.60" x2="35.5" y2="139.60"/>
<line x1="73.38" y1="174.1" x2="73.38" y2="176.7"/>
<line x1="32.9" y1="117.80" x2="35.5" y2="117.80"/>
<line x1="97.34" y1="174.1" x2="97.34" y2="176.7"/>
<line x1="32.9" y1="96.00" x2="35.5" y2="96.00"/>
<line x1="121.30" y1="174.1" x2="121.30" y2="176.7"/>
<line x1="32.9" y1="74.20" x2="35.5" y2="74.20"/>
<line x1="145.26" y1="174.1" x2="145.26" y2="176.7"/>
<line x1="32.9" y1="52.40" x2="35.5" y2="52.40"/>
<line x1="169.22" y1="174.1" x2="169.22" y2="176.7"/>
<line x1="32.9" y1="30.60" x2="35.5" y2="30.60"/>
<line x1="193.18" y1="174.1" x2="193.18" y2="176.7"/>
</g>
<g font-size="14.6" fill="#4d4d4d">
<text transform="translate(31.9,166.60) scale(0.93,1)" text-anchor="end">−6</text>
<text transform="translate(49.42,187.0) scale(0.93,1)" text-anchor="middle">−6</text>
<text transform="translate(31.9,144.80) scale(0.93,1)" text-anchor="end">−4</text>
<text transform="translate(73.38,187.0) scale(0.93,1)" text-anchor="middle">−4</text>
<text transform="translate(31.9,123.00) scale(0.93,1)" text-anchor="end">−2</text>
<text transform="translate(97.34,187.0) scale(0.93,1)" text-anchor="middle">−2</text>
<text transform="translate(31.9,101.20) scale(0.93,1)" text-anchor="end">0</text>
<text transform="translate(121.30,187.0) scale(0.93,1)" text-anchor="middle">0</text>
<text transform="translate(31.9,79.40) scale(0.93,1)" text-anchor="end">2</text>
<text transform="translate(145.26,187.0) scale(0.93,1)" text-anchor="middle">2</text>
<text transform="translate(31.9,57.60) scale(0.93,1)" text-anchor="end">4</text>
<text transform="translate(169.22,187.0) scale(0.93,1)" text-anchor="middle">4</text>
<text transform="translate(31.9,35.80) scale(0.93,1)" text-anchor="end">6</text>
<text transform="translate(193.18,187.0) scale(0.93,1)" text-anchor="middle">6</text>
</g>
</g>
<g transform="translate(0,0)">
<text x="273.9" y="19.1" text-anchor="middle" font-size="23.8" font-weight="bold" fill="#000">a</text>
<text transform="translate(222.4,100.1) rotate(-90)" text-anchor="middle" font-size="14.8" font-weight="bold" fill="#000">conc. (scaled)</text>
<rect x="261.35" y="123.20" width="16.3" height="37.40" fill="#FFF964"/>
<rect x="261.35" y="123.20" width="16.3" height="37.40" fill="url(#stripe)"/>
<rect x="261.35" y="123.20" width="16.3" height="37.40" fill="none" stroke="#222" stroke-width="1"/>
<g stroke="#333" stroke-width="0.85"><line x1="269.5" y1="154.12" x2="269.5" y2="91.35"/><line x1="267.1" y1="154.12" x2="271.9" y2="154.12"/><line x1="267.1" y1="91.35" x2="271.9" y2="91.35"/></g>
<rect x="287.35" y="98.65" width="16.3" height="61.95" fill="#FFF964"/>
<rect x="287.35" y="98.65" width="16.3" height="61.95" fill="url(#dots)"/>
<rect x="287.35" y="98.65" width="16.3" height="61.95" fill="none" stroke="#222" stroke-width="1"/>
<g stroke="#333" stroke-width="0.85"><line x1="295.5" y1="131.65" x2="295.5" y2="64.25"/><line x1="293.1" y1="131.65" x2="297.9" y2="131.65"/><line x1="293.1" y1="64.25" x2="297.9" y2="64.25"/></g>
<rect x="313.45" y="94.25" width="16.3" height="66.35" fill="#FFF964"/>
<rect x="313.45" y="94.25" width="16.3" height="66.35" fill="url(#cross)"/>
<rect x="313.45" y="94.25" width="16.3" height="66.35" fill="none" stroke="#222" stroke-width="1"/>
<g stroke="#333" stroke-width="0.85"><line x1="321.6" y1="124.70" x2="321.6" y2="63.68"/><line x1="319.20000000000005" y1="124.70" x2="324.0" y2="124.70"/><line x1="319.20000000000005" y1="63.68" x2="324.0" y2="63.68"/></g>
<line x1="254.5" y1="26.0" x2="254.5" y2="174.7" stroke="#000" stroke-width="1.1"/>
<line x1="254.0" y1="174.2" x2="336.8" y2="174.2" stroke="#000" stroke-width="1.1"/>
<g stroke="#333" stroke-width="1">
<line x1="251.9" y1="160.60" x2="254.5" y2="160.60"/>
<line x1="251.9" y1="131.65" x2="254.5" y2="131.65"/>
<line x1="251.9" y1="102.70" x2="254.5" y2="102.70"/>
<line x1="251.9" y1="73.75" x2="254.5" y2="73.75"/>
<line x1="251.9" y1="44.80" x2="254.5" y2="44.80"/>
<line x1="269.5" y1="174.2" x2="269.5" y2="176.79999999999998"/>
<line x1="295.5" y1="174.2" x2="295.5" y2="176.79999999999998"/>
<line x1="321.6" y1="174.2" x2="321.6" y2="176.79999999999998"/>
</g>
<g font-size="12.3" fill="#000">
<text x="250.4" y="164.90" text-anchor="end">0.00</text>
<text x="250.4" y="135.95" text-anchor="end">0.25</text>
<text x="250.4" y="107.00" text-anchor="end">0.50</text>
<text x="250.4" y="78.05" text-anchor="end">0.75</text>
<text x="250.4" y="49.10" text-anchor="end">1.00</text>
<text x="269.5" y="186.0" text-anchor="middle" textLength="29.8" lengthAdjust="spacingAndGlyphs">Chl−a</text>
<text x="295.5" y="186.0" text-anchor="middle" textLength="23.4" lengthAdjust="spacingAndGlyphs">TSS</text>
<text x="321.6" y="186.0" text-anchor="middle" textLength="25.8" lengthAdjust="spacingAndGlyphs">DOC</text>
</g>
</g>
<g transform="translate(347.8,0)">
<text x="273.9" y="19.1" text-anchor="middle" font-size="23.8" font-weight="bold" fill="#000">b</text>
<text transform="translate(222.4,100.1) rotate(-90)" text-anchor="middle" font-size="14.8" font-weight="bold" fill="#000">conc. (scaled)</text>
<rect x="261.35" y="122.39" width="16.3" height="38.21" fill="#ABF1F1"/>
<rect x="261.35" y="122.39" width="16.3" height="38.21" fill="url(#stripe)"/>
<rect x="261.35" y="122.39" width="16.3" height="38.21" fill="none" stroke="#222" stroke-width="1"/>
<g stroke="#333" stroke-width="0.85"><line x1="269.5" y1="159.21" x2="269.5" y2="86.95"/><line x1="267.1" y1="159.21" x2="271.9" y2="159.21"/><line x1="267.1" y1="86.95" x2="271.9" y2="86.95"/></g>
<rect x="287.35" y="66.45" width="16.3" height="94.15" fill="#ABF1F1"/>
<rect x="287.35" y="66.45" width="16.3" height="94.15" fill="url(#dots)"/>
<rect x="287.35" y="66.45" width="16.3" height="94.15" fill="none" stroke="#222" stroke-width="1"/>
<g stroke="#333" stroke-width="0.85"><line x1="295.5" y1="100.38" x2="295.5" y2="32.41"/><line x1="293.1" y1="100.38" x2="297.9" y2="100.38"/><line x1="293.1" y1="32.41" x2="297.9" y2="32.41"/></g>
<rect x="313.45" y="66.45" width="16.3" height="94.15" fill="#ABF1F1"/>
<rect x="313.45" y="66.45" width="16.3" height="94.15" fill="url(#cross)"/>
<rect x="313.45" y="66.45" width="16.3" height="94.15" fill="none" stroke="#222" stroke-width="1"/>
<g stroke="#333" stroke-width="0.85"><line x1="321.6" y1="98.18" x2="321.6" y2="35.42"/><line x1="319.20000000000005" y1="98.18" x2="324.0" y2="98.18"/><line x1="319.20000000000005" y1="35.42" x2="324.0" y2="35.42"/></g>
<line x1="254.5" y1="26.0" x2="254.5" y2="174.7" stroke="#000" stroke-width="1.1"/>
<line x1="254.0" y1="174.2" x2="336.8" y2="174.2" stroke="#000" stroke-width="1.1"/>
<g stroke="#333" stroke-width="1">
<line x1="251.9" y1="160.60" x2="254.5" y2="160.60"/>
<line x1="251.9" y1="131.65" x2="254.5" y2="131.65"/>
<line x1="251.9" y1="102.70" x2="254.5" y2="102.70"/>
<line x1="251.9" y1="73.75" x2="254.5" y2="73.75"/>
<line x1="251.9" y1="44.80" x2="254.5" y2="44.80"/>
<line x1="269.5" y1="174.2" x2="269.5" y2="176.79999999999998"/>
<line x1="295.5" y1="174.2" x2="295.5" y2="176.79999999999998"/>
<line x1="321.6" y1="174.2" x2="321.6" y2="176.79999999999998"/>
</g>
<g font-size="12.3" fill="#000">
<text x="250.4" y="164.90" text-anchor="end">0.00</text>
<text x="250.4" y="135.95" text-anchor="end">0.25</text>
<text x="250.4" y="107.00" text-anchor="end">0.50</text>
<text x="250.4" y="78.05" text-anchor="end">0.75</text>
<text x="250.4" y="49.10" text-anchor="end">1.00</text>
<text x="269.5" y="186.0" text-anchor="middle" textLength="29.8" lengthAdjust="spacingAndGlyphs">Chl−a</text>
<text x="295.5" y="186.0" text-anchor="middle" textLength="23.4" lengthAdjust="spacingAndGlyphs">TSS</text>
<text x="321.6" y="186.0" text-anchor="middle" textLength="25.8" lengthAdjust="spacingAndGlyphs">DOC</text>
</g>
</g>
<g transform="translate(0,236.3)">
<text x="273.9" y="19.1" text-anchor="middle" font-size="23.8" font-weight="bold" fill="#000">c</text>
<text transform="translate(222.4,100.1) rotate(-90)" text-anchor="middle" font-size="14.8" font-weight="bold" fill="#000">conc. (scaled)</text>
<rect x="261.35" y="133.39" width="16.3" height="27.21" fill="#006100"/>
<rect x="261.35" y="133.39" width="16.3" height="27.21" fill="url(#stripe)"/>
<rect x="261.35" y="133.39" width="16.3" height="27.21" fill="none" stroke="#222" stroke-width="1"/>
<g stroke="#333" stroke-width="0.85"><line x1="269.5" y1="164.42" x2="269.5" y2="103.05"/><line x1="267.1" y1="164.42" x2="271.9" y2="164.42"/><line x1="267.1" y1="103.05" x2="271.9" y2="103.05"/></g>
<rect x="287.35" y="145.20" width="16.3" height="15.40" fill="#006100"/>
<rect x="287.35" y="145.20" width="16.3" height="15.40" fill="url(#dots)"/>
<rect x="287.35" y="145.20" width="16.3" height="15.40" fill="none" stroke="#222" stroke-width="1"/>
<g stroke="#333" stroke-width="0.85"><line x1="295.5" y1="161.41" x2="295.5" y2="129.57"/><line x1="293.1" y1="161.41" x2="297.9" y2="161.41"/><line x1="293.1" y1="129.57" x2="297.9" y2="129.57"/></g>
<rect x="313.45" y="144.27" width="16.3" height="16.33" fill="#006100"/>
<rect x="313.45" y="144.27" width="16.3" height="16.33" fill="url(#cross2)"/>
<rect x="313.45" y="144.27" width="16.3" height="16.33" fill="none" stroke="#222" stroke-width="1"/>
<g stroke="#333" stroke-width="0.85"><line x1="321.6" y1="160.60" x2="321.6" y2="129.57"/><line x1="319.20000000000005" y1="160.60" x2="324.0" y2="160.60"/><line x1="319.20000000000005" y1="129.57" x2="324.0" y2="129.57"/></g>
<line x1="254.5" y1="26.0" x2="254.5" y2="174.7" stroke="#000" stroke-width="1.1"/>
<line x1="254.0" y1="174.2" x2="336.8" y2="174.2" stroke="#000" stroke-width="1.1"/>
<g stroke="#333" stroke-width="1">
<line x1="251.9" y1="160.60" x2="254.5" y2="160.60"/>
<line x1="251.9" y1="131.65" x2="254.5" y2="131.65"/>
<line x1="251.9" y1="102.70" x2="254.5" y2="102.70"/>
<line x1="251.9" y1="73.75" x2="254.5" y2="73.75"/>
<line x1="251.9" y1="44.80" x2="254.5" y2="44.80"/>
<line x1="269.5" y1="174.2" x2="269.5" y2="176.79999999999998"/>
<line x1="295.5" y1="174.2" x2="295.5" y2="176.79999999999998"/>
<line x1="321.6" y1="174.2" x2="321.6" y2="176.79999999999998"/>
</g>
<g font-size="12.3" fill="#000">
<text x="250.4" y="164.90" text-anchor="end">0.00</text>
<text x="250.4" y="135.95" text-anchor="end">0.25</text>
<text x="250.4" y="107.00" text-anchor="end">0.50</text>
<text x="250.4" y="78.05" text-anchor="end">0.75</text>
<text x="250.4" y="49.10" text-anchor="end">1.00</text>
<text x="269.5" y="186.0" text-anchor="middle" textLength="29.8" lengthAdjust="spacingAndGlyphs">Chl−a</text>
<text x="295.5" y="186.0" text-anchor="middle" textLength="23.4" lengthAdjust="spacingAndGlyphs">TSS</text>
<text x="321.6" y="186.0" text-anchor="middle" textLength="25.8" lengthAdjust="spacingAndGlyphs">DOC</text>
</g>
</g>
<g transform="translate(347.8,236.3)">
<text x="273.9" y="19.1" text-anchor="middle" font-size="23.8" font-weight="bold" fill="#000">d</text>
<text transform="translate(222.4,100.1) rotate(-90)" text-anchor="middle" font-size="14.8" font-weight="bold" fill="#000">conc. (scaled)</text>
<line x1="261.35" y1="160.60" x2="277.65" y2="160.60" stroke="#666" stroke-width="1"/>
<line x1="287.35" y1="160.60" x2="303.65" y2="160.60" stroke="#666" stroke-width="1"/>
<line x1="313.45000000000005" y1="160.60" x2="329.75" y2="160.60" stroke="#666" stroke-width="1"/>
<text x="295.5" y="108.8" text-anchor="middle" font-size="13.4" fill="#222">No Data</text>
<text x="295.5" y="125" text-anchor="middle" font-size="13.4" fill="#222">Available</text>
<line x1="254.5" y1="26.0" x2="254.5" y2="174.7" stroke="#000" stroke-width="1.1"/>
<line x1="254.0" y1="174.2" x2="336.8" y2="174.2" stroke="#000" stroke-width="1.1"/>
<g stroke="#333" stroke-width="1">
<line x1="251.9" y1="160.60" x2="254.5" y2="160.60"/>
<line x1="251.9" y1="131.65" x2="254.5" y2="131.65"/>
<line x1="251.9" y1="102.70" x2="254.5" y2="102.70"/>
<line x1="251.9" y1="73.75" x2="254.5" y2="73.75"/>
<line x1="251.9" y1="44.80" x2="254.5" y2="44.80"/>
<line x1="269.5" y1="174.2" x2="269.5" y2="176.79999999999998"/>
<line x1="295.5" y1="174.2" x2="295.5" y2="176.79999999999998"/>
<line x1="321.6" y1="174.2" x2="321.6" y2="176.79999999999998"/>
</g>
<g font-size="12.3" fill="#000">
<text x="250.4" y="164.90" text-anchor="end">0.00</text>
<text x="250.4" y="135.95" text-anchor="end">0.25</text>
<text x="250.4" y="107.00" text-anchor="end">0.50</text>
<text x="250.4" y="78.05" text-anchor="end">0.75</text>
<text x="250.4" y="49.10" text-anchor="end">1.00</text>
<text x="269.5" y="186.0" text-anchor="middle" textLength="29.8" lengthAdjust="spacingAndGlyphs">Chl−a</text>
<text x="295.5" y="186.0" text-anchor="middle" textLength="23.4" lengthAdjust="spacingAndGlyphs">TSS</text>
<text x="321.6" y="186.0" text-anchor="middle" textLength="25.8" lengthAdjust="spacingAndGlyphs">DOC</text>
</g>
</g>
<g transform="translate(0,471.4)">
<text x="273.9" y="19.1" text-anchor="middle" font-size="23.8" font-weight="bold" fill="#000">e</text>
<text transform="translate(222.4,100.1) rotate(-90)" text-anchor="middle" font-size="14.8" font-weight="bold" fill="#000">conc. (scaled)</text>
<rect x="261.35" y="105.94" width="16.3" height="54.66" fill="#C51400"/>
<rect x="261.35" y="105.94" width="16.3" height="54.66" fill="url(#stripe)"/>
<rect x="261.35" y="105.94" width="16.3" height="54.66" fill="none" stroke="#222" stroke-width="1"/>
<g stroke="#333" stroke-width="0.85"><line x1="269.5" y1="155.97" x2="269.5" y2="56.38"/><line x1="267.1" y1="155.97" x2="271.9" y2="155.97"/><line x1="267.1" y1="56.38" x2="271.9" y2="56.38"/></g>
<rect x="287.35" y="89.38" width="16.3" height="71.22" fill="#C51400"/>
<rect x="287.35" y="89.38" width="16.3" height="71.22" fill="url(#dots)"/>
<rect x="287.35" y="89.38" width="16.3" height="71.22" fill="none" stroke="#222" stroke-width="1"/>
<g stroke="#333" stroke-width="0.85"><line x1="295.5" y1="122.73" x2="295.5" y2="56.38"/><line x1="293.1" y1="122.73" x2="297.9" y2="122.73"/><line x1="293.1" y1="56.38" x2="297.9" y2="56.38"/></g>
<rect x="313.45" y="88.80" width="16.3" height="71.80" fill="#C51400"/>
<rect x="313.45" y="88.80" width="16.3" height="71.80" fill="url(#cross)"/>
<rect x="313.45" y="88.80" width="16.3" height="71.80" fill="none" stroke="#222" stroke-width="1"/>
<g stroke="#333" stroke-width="0.85"><line x1="321.6" y1="123.31" x2="321.6" y2="54.30"/><line x1="319.20000000000005" y1="123.31" x2="324.0" y2="123.31"/><line x1="319.20000000000005" y1="54.30" x2="324.0" y2="54.30"/></g>
<line x1="254.5" y1="26.0" x2="254.5" y2="174.7" stroke="#000" stroke-width="1.1"/>
<line x1="254.0" y1="174.2" x2="336.8" y2="174.2" stroke="#000" stroke-width="1.1"/>
<g stroke="#333" stroke-width="1">
<line x1="251.9" y1="160.60" x2="254.5" y2="160.60"/>
<line x1="251.9" y1="131.65" x2="254.5" y2="131.65"/>
<line x1="251.9" y1="102.70" x2="254.5" y2="102.70"/>
<line x1="251.9" y1="73.75" x2="254.5" y2="73.75"/>
<line x1="251.9" y1="44.80" x2="254.5" y2="44.80"/>
<line x1="269.5" y1="174.2" x2="269.5" y2="176.79999999999998"/>
<line x1="295.5" y1="174.2" x2="295.5" y2="176.79999999999998"/>
<line x1="321.6" y1="174.2" x2="321.6" y2="176.79999999999998"/>
</g>
<g font-size="12.3" fill="#000">
<text x="250.4" y="164.90" text-anchor="end">0.00</text>
<text x="250.4" y="135.95" text-anchor="end">0.25</text>
<text x="250.4" y="107.00" text-anchor="end">0.50</text>
<text x="250.4" y="78.05" text-anchor="end">0.75</text>
<text x="250.4" y="49.10" text-anchor="end">1.00</text>
<text x="269.5" y="186.0" text-anchor="middle" textLength="29.8" lengthAdjust="spacingAndGlyphs">Chl−a</text>
<text x="295.5" y="186.0" text-anchor="middle" textLength="23.4" lengthAdjust="spacingAndGlyphs">TSS</text>
<text x="321.6" y="186.0" text-anchor="middle" textLength="25.8" lengthAdjust="spacingAndGlyphs">DOC</text>
</g>
</g>
<text x="424.5" y="482.5" font-size="18" font-weight="bold" fill="#000">Legend</text>
<rect x="424.9" y="494.0" width="30.4" height="15" fill="#FFF964"/>
<text x="460.91" y="505.8" font-size="13.5" fill="#1a1a1a">Cropland (Rainfed)</text>
<rect x="424.9" y="515.1" width="30.4" height="15" fill="#ABF1F1"/>
<text x="460.91" y="526.1" font-size="13.5" fill="#1a1a1a">Cropland (Irrigated)</text>
<rect x="424.9" y="536.2" width="30.4" height="15" fill="#006100"/>
<text x="460.91" y="547.4" font-size="13.5" fill="#1a1a1a">Forest</text>
<rect x="424.9" y="557.7" width="30.4" height="15" fill="#976500"/>
<text x="460.91" y="568.4" font-size="13.5" fill="#1a1a1a">Shrubland + Grassland</text>
<rect x="424.9" y="578.7" width="30.4" height="15" fill="#C51400"/>
<text x="460.91" y="589.6" font-size="13.5" fill="#1a1a1a">Urban</text>
<clipPath id="swc0"><rect x="425.6" y="608.0" width="29.0" height="13.4"/></clipPath>
<rect x="425.6" y="608.0" width="29.0" height="13.4" fill="#bebebe"/>
<g clip-path="url(#swc0)"><g stroke="#fff" stroke-width="1.4"><line x1="375.04" y1="650.58" x2="478.36" y2="589.62"/><line x1="389.44" y1="651.08" x2="492.76" y2="590.12"/><line x1="360.64" y1="650.48" x2="463.96" y2="589.52"/></g></g>
<rect x="425.6" y="608.0" width="29.0" height="13.4" fill="none" stroke="#333" stroke-width="1.2"/>
<text x="460.89" y="618.9" font-size="13.5" fill="#1a1a1a">Chl-a</text>
<clipPath id="swc1"><rect x="425.6" y="629.2" width="29.0" height="13.4"/></clipPath>
<rect x="425.6" y="629.2" width="29.0" height="13.4" fill="#bebebe"/>
<g clip-path="url(#swc1)"><g stroke="#fff" stroke-width="1.0" fill="none" stroke-opacity="0.9"><polyline points="427.5,640.5 427.5,631.0 432.5,640.5 432.5,631.0 437.5,640.5 437.5,631.0 442.5,640.5 442.5,631.0 447.5,640.5 447.5,631.0 452.5,640.5 452.5,631.0"/></g></g>
<rect x="425.6" y="629.2" width="29.0" height="13.4" fill="none" stroke="#333" stroke-width="1.2"/>
<text x="460.89" y="639.7" font-size="13.5" fill="#1a1a1a">TSS</text>
<clipPath id="swc2"><rect x="425.6" y="650.2" width="29.0" height="13.4"/></clipPath>
<rect x="425.6" y="650.2" width="29.0" height="13.4" fill="#bebebe"/>
<g clip-path="url(#swc2)"><g stroke="#fff" stroke-width="1.3"><line x1="395.50" y1="600.62" x2="459.10" y2="702.38"/><line x1="404.80" y1="600.62" x2="468.40" y2="702.38"/><line x1="412.80" y1="600.62" x2="476.40" y2="702.38"/><line x1="375.00" y1="690.30" x2="478.20" y2="629.10"/><line x1="382.70" y1="693.10" x2="485.90" y2="631.90"/><line x1="398.40" y1="700.80" x2="501.60" y2="639.60"/></g></g>
<rect x="425.6" y="650.2" width="29.0" height="13.4" fill="none" stroke="#333" stroke-width="1.2"/>
<text x="460.89" y="660.3" font-size="13.5" fill="#1a1a1a">DOC</text>
</svg></body></html>
